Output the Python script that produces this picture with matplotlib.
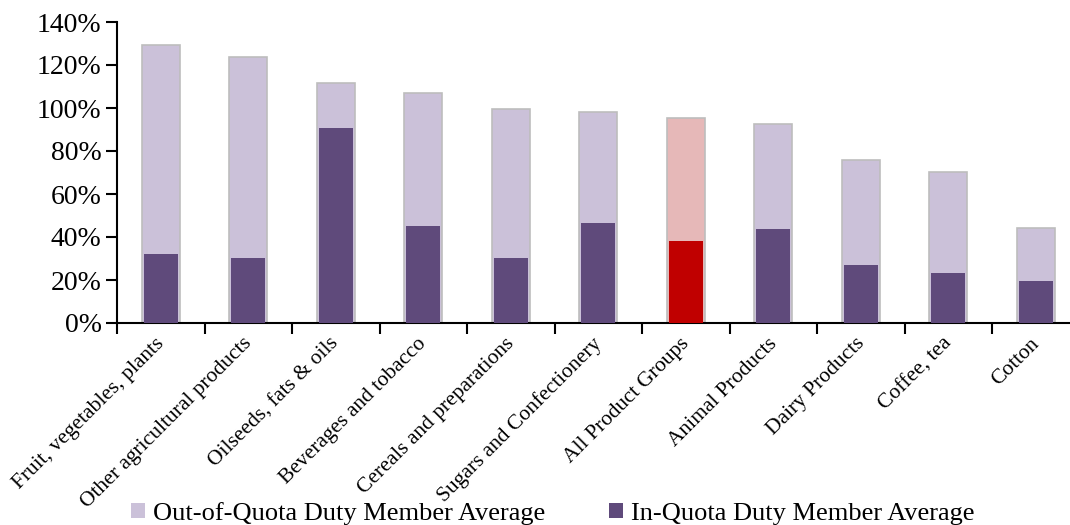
import numpy as np
import matplotlib
matplotlib.use("Agg")
import matplotlib.pyplot as plt
import matplotlib.transforms as mtransforms
from matplotlib.patches import Patch

# Data (percent)
categories = ["Fruit, vegetables, plants", "Other agricultural products",
              "Oilseeds, fats & oils", "Beverages and tobacco",
              "Cereals and preparations", "Sugars and Confectionery",
              "All Product Groups", "Animal Products", "Dairy Products",
              "Coffee, tea", "Cotton"]
out_quota = [129.2, 123.5, 111.5, 106.8, 99.5, 98.0, 95.4, 92.7, 75.9, 70.3, 44.3]
in_quota = [32.0, 30.2, 90.5, 44.9, 30.2, 46.4, 38.3, 43.6, 27.1, 23.4, 19.7]
highlight = "All Product Groups"

yticks = [0, 20, 40, 60, 80, 100, 120, 140]

light = "#CBC1D9"
dark = "#5F4A7B"
light_red = "#E6B8B8"
red = "#C00000"

plt.rcParams['font.family'] = ['Liberation Serif', 'DejaVu Serif']

fig = plt.figure(figsize=(10.7, 5.25), dpi=100)
ax = fig.add_axes([117 / 1070, 1 - 323 / 525, 962.5 / 1070, 301 / 525])

x = np.arange(len(categories))
out_colors = [light_red if c == highlight else light for c in categories]
in_colors = [red if c == highlight else dark for c in categories]

ax.bar(x, out_quota, width=0.43, color=out_colors, edgecolor="#BDBDBD",
       linewidth=1.2, zorder=2)
ax.bar(x, in_quota, width=0.39, color=in_colors, linewidth=0, zorder=3)

ax.set_xlim(-0.5, len(categories) - 0.5)
ax.set_ylim(0, 140)
ax.set_yticks(yticks)
ax.set_yticklabels([f"{v}%" for v in yticks], fontsize=20)

ax.set_xticks(np.arange(len(categories) + 1) - 0.5)
ax.set_xticklabels([])
ax.set_xticks(x, minor=True)
ax.set_xticklabels(categories, minor=True, rotation=45, ha="right",
                   va="top", rotation_mode="anchor", fontsize=15.5)
ax.tick_params(axis="x", which="minor", length=0, pad=8)
ax.tick_params(axis="x", which="major", length=8, width=1.5, direction="out")
ax.tick_params(axis="y", length=8, width=1.5, direction="out", pad=3)

# nudge rotated labels a little to the left
shift = mtransforms.ScaledTranslation(-6 / 100, 0, fig.dpi_scale_trans)
for lbl in ax.get_xticklabels(minor=True):
    lbl.set_transform(lbl.get_transform() + shift)

for s in ["top", "right"]:
    ax.spines[s].set_visible(False)
for s in ["left", "bottom"]:
    ax.spines[s].set_linewidth(1.5)

handles = [Patch(facecolor=light, edgecolor="none"),
           Patch(facecolor=dark, edgecolor="none")]
fig.legend(handles, ["Out-of-Quota Duty Member Average", "In-Quota Duty Member Average"],
           loc="lower left", bbox_to_anchor=(107 / 1070, -0.045), ncol=2,
           frameon=False, fontsize=19, handlelength=0.55, handleheight=0.55,
           handletextpad=0.3, columnspacing=2.4)

fig.savefig("out.png", dpi=100)
